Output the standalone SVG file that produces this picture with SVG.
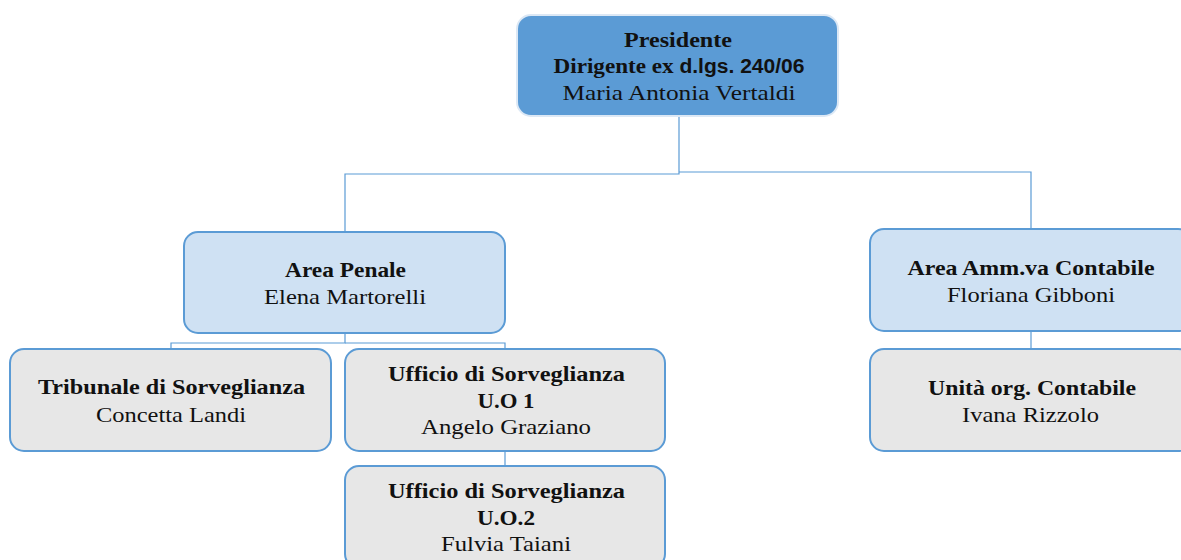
<svg xmlns="http://www.w3.org/2000/svg" width="1181" height="560" viewBox="0 0 1181 560">
<style>
.top{fill:#5B9BD5;stroke:#DCE8F5;stroke-width:2}
.mid{fill:#CFE1F3;stroke:#5B9BD5;stroke-width:2}
.low{fill:#E7E7E7;stroke:#5B9BD5;stroke-width:2}
.conn{fill:none;stroke:#5B9BD5;stroke-width:1.2}
text{font-family:"Liberation Serif","DejaVu Serif",serif;font-size:22px;fill:#111;text-anchor:middle}
.b{font-weight:bold}
.sans{font-family:"Liberation Sans","DejaVu Sans",sans-serif;font-weight:bold;font-size:20px}
</style>
<rect width="1181" height="560" fill="#fff"/>
<g id="connectors">
<path class="conn" d="M679,116 V174 H345 V232"/>
<path class="conn" d="M679,172 H1031 V229"/>
<path class="conn" d="M345,333 V343 H171 V350"/>
<path class="conn" d="M345,343 H505 V350"/>
<path class="conn" d="M505,451 V466"/>
<path class="conn" d="M1031,331 V349"/>
</g>
<g id="presidente">
<rect class="top" x="517" y="15" width="321" height="101" rx="14"/>
<text class="b" x="678" y="47" textLength="108" lengthAdjust="spacingAndGlyphs">Presidente</text>
<text class="b" x="679" y="73" textLength="251" lengthAdjust="spacingAndGlyphs">Dirigente ex <tspan class="sans">d.lgs. 240/06</tspan></text>
<text x="679" y="100" textLength="233" lengthAdjust="spacingAndGlyphs">Maria Antonia Vertaldi</text>
</g>
<g id="area-penale">
<rect class="mid" x="184" y="232" width="321" height="101" rx="14"/>
<text class="b" x="345.5" y="277" textLength="121" lengthAdjust="spacingAndGlyphs">Area Penale</text>
<text x="345" y="304" textLength="162" lengthAdjust="spacingAndGlyphs">Elena Martorelli</text>
</g>
<g id="area-amm">
<rect class="mid" x="870" y="229" width="322" height="102" rx="14"/>
<text class="b" x="1031" y="275" textLength="247" lengthAdjust="spacingAndGlyphs">Area Amm.va Contabile</text>
<text x="1031" y="302" textLength="168" lengthAdjust="spacingAndGlyphs">Floriana Gibboni</text>
</g>
<g id="tribunale">
<rect class="low" x="10" y="349" width="321" height="102" rx="14"/>
<text class="b" x="171.5" y="394" textLength="267" lengthAdjust="spacingAndGlyphs">Tribunale di Sorveglianza</text>
<text x="171" y="422" textLength="150" lengthAdjust="spacingAndGlyphs">Concetta Landi</text>
</g>
<g id="ufficio-uo1">
<rect class="low" x="345" y="349" width="320" height="102" rx="14"/>
<text class="b" x="506.5" y="381" textLength="237" lengthAdjust="spacingAndGlyphs">Ufficio di Sorveglianza</text>
<text class="b" x="506" y="408" textLength="57" lengthAdjust="spacingAndGlyphs">U.O 1</text>
<text x="506" y="434" textLength="170" lengthAdjust="spacingAndGlyphs">Angelo Graziano</text>
</g>
<g id="ufficio-uo2">
<rect class="low" x="345" y="466" width="320" height="102" rx="14"/>
<text class="b" x="506.5" y="498" textLength="237" lengthAdjust="spacingAndGlyphs">Ufficio di Sorveglianza</text>
<text class="b" x="506" y="525" textLength="58" lengthAdjust="spacingAndGlyphs">U.O.2</text>
<text x="506" y="551" textLength="130" lengthAdjust="spacingAndGlyphs">Fulvia Taiani</text>
</g>
<g id="unita">
<rect class="low" x="870" y="349" width="322" height="102" rx="14"/>
<text class="b" x="1032" y="395" textLength="208" lengthAdjust="spacingAndGlyphs">Unità org. Contabile</text>
<text x="1030.5" y="422" textLength="137" lengthAdjust="spacingAndGlyphs">Ivana Rizzolo</text>
</g>
</svg>
